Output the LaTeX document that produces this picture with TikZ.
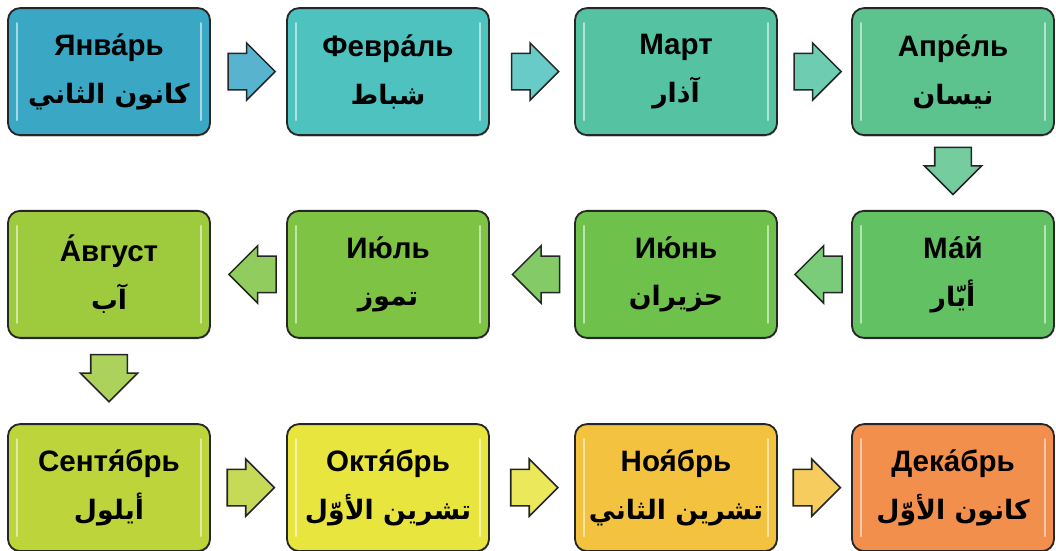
\documentclass[tikz,border=0pt]{standalone}
\usepackage{fontspec}
\setmainfont{Liberation Sans}
\newfontfamily\arabicfont[Script=Arabic]{DejaVu Sans}
\TeXXeTstate=1
\usetikzlibrary{shapes.arrows,positioning,calc,shadows}

\definecolor{cJan}{HTML}{3AA7C5}
\definecolor{cFeb}{HTML}{4DC2BE}
\definecolor{cMar}{HTML}{55C3A2}
\definecolor{cApr}{HTML}{5DC38E}
\definecolor{cMay}{HTML}{62C263}
\definecolor{cJun}{HTML}{6EC24C}
\definecolor{cJul}{HTML}{7EC343}
\definecolor{cAug}{HTML}{9ECA3E}
\definecolor{cSep}{HTML}{BDD43A}
\definecolor{cOct}{HTML}{E8E53E}
\definecolor{cNov}{HTML}{F3C340}
\definecolor{cDec}{HTML}{F28F4C}

\tikzset{
	mois/.style={draw=black!85, line width=1.3pt, rounded corners=0.3cm,
		minimum width=5.05cm, minimum height=3.175cm, inner sep=0pt, align=center,
		font=\fontsize{21}{26}\selectfont\bfseries,
		drop shadow={shadow xshift=0.4pt, shadow yshift=-1.2pt, opacity=0.25}},
	fleche/.style={single arrow, draw=black!85, line width=1.1pt,
		minimum height=1.18cm, inner xsep=0pt, inner ysep=0.4375cm,
		single arrow head extend=0.26cm},
	reflet/.style={white, opacity=0.55, line width=1.6pt, line cap=round}
}
\newcommand{\ar}{\arabicfont\fontsize{19}{26}\selectfont\bfseries}

\begin{document}
\begin{tikzpicture}
	\def\cA{2.725}; \def\cB{9.7}; \def\cC{16.9}; \def\cD{23.825};
	\def\rA{-1.79}; \def\rB{-6.86}; \def\rC{-12.19};
\useasboundingbox (0,0) rectangle (26.4,-13.775);

%Ligne 1
\node[mois, fill=cJan] (jan) at (\cA,\rA) {Янва́рь\\[8pt]{\ar\beginR كانون الثاني\endR}};
\node[mois, fill=cFeb] (feb) at (\cB,\rA) {Февра́ль\\[8pt]{\ar\beginR شباط\endR}};
\node[mois, fill=cMar] (mar) at (\cC,\rA) {Март\\[8pt]{\ar\beginR آذار\endR}};
\node[mois, fill=cApr] (apr) at (\cD,\rA) {Апре́ль\\[8pt]{\ar\beginR نيسان\endR}};

%Ligne 2
\node[mois, fill=cMay] (may) at (\cD,\rB) {Ма́й\\[8pt]{\ar\beginR أيّار\endR}};
\node[mois, fill=cJun] (jun) at (\cC,\rB) {Ию́нь\\[8pt]{\ar\beginR حزيران\endR}};
\node[mois, fill=cJul] (jul) at (\cB,\rB) {Ию́ль\\[8pt]{\ar\beginR تموز\endR}};
\node[mois, fill=cAug] (aug) at (\cA,\rB) {А́вгуст\\[8pt]{\ar\beginR آب\endR}};

%Ligne 3
\node[mois, fill=cSep] (sep) at (\cA,\rC) {Сентя́брь\\[8pt]{\ar\beginR أيلول\endR}};
\node[mois, fill=cOct] (oct) at (\cB,\rC) {Октя́брь\\[8pt]{\ar\beginR تشرين الأوّل\endR}};
\node[mois, fill=cNov] (nov) at (\cC,\rC) {Ноя́брь\\[8pt]{\ar\beginR تشرين الثاني\endR}};
\node[mois, fill=cDec] (dec) at (\cD,\rC) {Дека́брь\\[8pt]{\ar\beginR كانون الأوّل\endR}};

%Reflets
\foreach \m in {jan,feb,mar,apr,may,jun,jul,aug,sep,oct,nov,dec}{
	\draw[reflet] ([xshift=0.25cm,yshift=-0.4cm]\m.north west) -- ([xshift=0.25cm,yshift=0.4cm]\m.south west);
	\draw[reflet] ([xshift=-0.25cm,yshift=-0.4cm]\m.north east) -- ([xshift=-0.25cm,yshift=0.4cm]\m.south east);
}

%Fleches
\node[fleche, fill=cJan!85!white] (f1) at ($(jan.east)!0.5!(feb.west)+(-0.15,0)$) {};
\node[fleche, fill=cFeb!85!white] (f2) at ($(feb.east)!0.5!(mar.west)+(-0.15,0)$) {};
\node[fleche, fill=cMar!85!white] (f3) at ($(mar.east)!0.5!(apr.west)+(-0.15,0)$) {};
\node[fleche, fill=cApr!85!white, rotate=-90] (f4) at ($(apr.south)!0.5!(may.north)+(0,0.28)$) {};
\node[fleche, fill=cMay!85!white, rotate=180] (f5) at ($(may.west)!0.5!(jun.east)+(0.33,0)$) {};
\node[fleche, fill=cJun!85!white, rotate=180] (f6) at ($(jun.west)!0.5!(jul.east)+(0.33,0)$) {};
\node[fleche, fill=cJul!85!white, rotate=180] (f7) at ($(jul.west)!0.5!(aug.east)+(0.33,0)$) {};
\node[fleche, fill=cAug!85!white, rotate=-90] (f8) at ($(aug.south)!0.5!(sep.north)+(0,0.3)$) {};
\node[fleche, fill=cSep!85!white] (f9) at ($(sep.east)!0.5!(oct.west)+(-0.17,0)$) {};
\node[fleche, fill=cOct!85!white] (f10) at ($(oct.east)!0.5!(nov.west)+(-0.17,0)$) {};
\node[fleche, fill=cNov!85!white] (f11) at ($(nov.east)!0.5!(dec.west)+(-0.17,0)$) {};

\end{tikzpicture}
\end{document}
